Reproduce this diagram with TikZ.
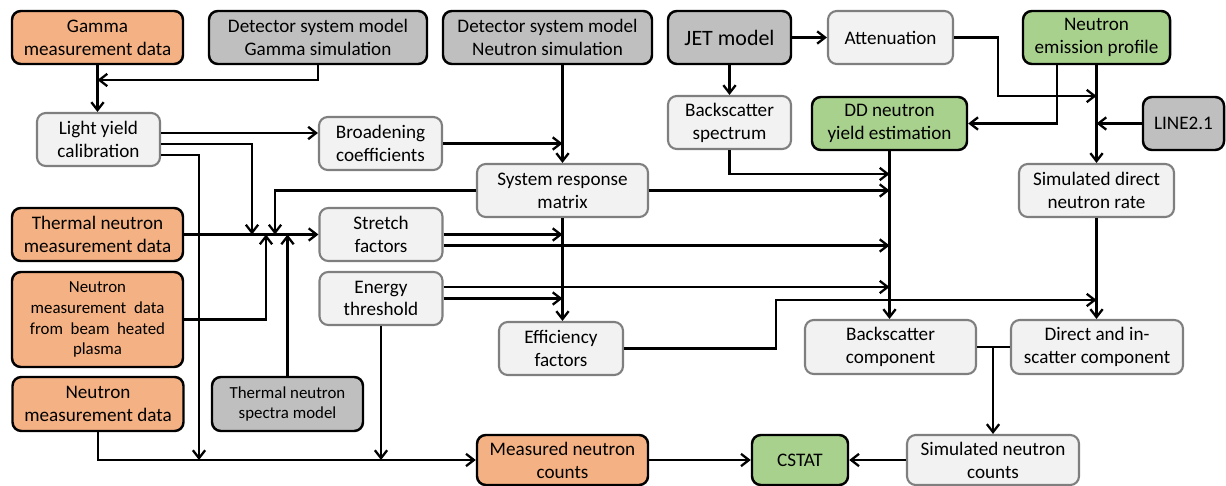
\documentclass[tikz,border=0pt]{standalone}
\usepackage{fontspec}
\setmainfont{Carlito}
\usetikzlibrary{calc,arrows.meta}
\definecolor{cOrange}{HTML}{F4B183}
\definecolor{cGreen}{HTML}{A9D18E}
\definecolor{cDark}{HTML}{BFBFBF}
\definecolor{cLight}{HTML}{F2F2F2}
\definecolor{cBord}{HTML}{7F7F7F}
\tikzset{
  box/.style 2 args={rounded corners=5pt, align=center, inner sep=0pt,
    minimum width=#1*0.02cm, minimum height=#2*0.02cm,
    font=\fontsize{10.9}{13}\selectfont},
  orange/.style={fill=cOrange, draw=black, line width=1.4pt},
  green/.style={fill=cGreen, draw=black, line width=1.4pt},
  dark/.style={fill=cDark, draw=black, line width=1.4pt},
  light/.style={fill=cLight, draw=cBord, line width=1.2pt},
  smallfont/.style={font=\fontsize{9.6}{11.9}\selectfont},
  bigfont/.style={font=\fontsize{12.5}{15}\selectfont},
  arr/.style={line width=1.3pt, -{Straight Barb[length=4.5pt,width=7pt]}},
  ln/.style={line width=1.3pt}
}
\begin{document}
\begin{tikzpicture}[x=0.02cm,y=-0.02cm]
\useasboundingbox (0,0) rectangle (1226,486);
% nodes
\node[box={171}{53},orange] (gmd) at (97.5,37.5) {Gamma\\measurement data};
\node[box={218}{53},dark] (dgs) at (318,37.5) {Detector system model\\Gamma simulation};
\node[box={209}{53},dark] (dns) at (547.5,37.5) {Detector system model\\Neutron simulation};
\node[box={123}{53},dark,bigfont] (jet) at (729.5,37.5) {JET model};
\node[box={125}{53},light] (att) at (890.5,37.5) {Attenuation};
\node[box={147}{53},green] (nep) at (1096.5,37.5) {Neutron\\emission profile};
\node[box={123}{53},light] (ly) at (98.5,139.5) {Light yield\\calibration};
\node[box={123}{53},light] (bc) at (380.5,143.5) {Broadening\\coefficients};
\node[box={123}{53},light] (bs) at (729.5,122.5) {Backscatter\\spectrum};
\node[box={155}{53},green] (dd) at (889.5,123.5) {DD neutron\\yield estimation};
\node[box={81}{53},dark] (line) at (1183.5,123.5) {LINE2.1};
\node[box={171}{53},light] (srm) at (562.5,190.5) {System response\\matrix};
\node[box={155}{53},light] (sdr) at (1096.5,190.5) {Simulated direct\\neutron rate};
\node[box={171}{53},orange] (tnm) at (97.5,234.5) {Thermal neutron\\measurement data};
\node[box={123}{53},light] (sf) at (381,234.5) {Stretch\\factors};
\node[box={123}{53},light] (et) at (381,298.5) {Energy\\threshold};
\node[box={171}{95},orange,smallfont] (nbh) at (97.5,319.5) {Neutron\\measurement~~data\\from~~beam~~heated\\plasma};
\node[box={124}{53},light] (ef) at (561,348.5) {Efficiency\\factors};
\node[box={171}{54},light] (bsc) at (890.5,347) {Backscatter\\component};
\node[box={172}{54},light] (dic) at (1097,347) {Direct and in-\\scatter component};
\node[box={171}{54},orange] (nmd) at (98,404) {Neutron\\measurement data};
\node[box={151}{54},dark,smallfont] (tns) at (287.5,404) {Thermal neutron\\spectra model};
\node[box={171}{50},orange] (mnc) at (562.5,460) {Measured neutron\\counts};
\node[box={96}{50},green] (cstat) at (800,460) {CSTAT};
\node[box={172}{50},light] (snc) at (993,460) {Simulated neutron\\counts};
% helper coordinates
\coordinate (j1) at (97.5,80);
\coordinate (ly1) at ($(ly.east)+(0,-6.5)$);
\coordinate (ly2) at ($(ly.east)+(0,4.5)$);
\coordinate (ly3) at ($(ly.east)+(0,15.5)$);
\coordinate (jA) at (252,234.5);
\coordinate (jB) at (199,460);
\coordinate (jC) at (275,234.5);
\coordinate (jD) at (266,234.5);
\coordinate (sf2) at ($(sf.east)+(0,11)$);
\coordinate (et2) at ($(et.east)+(0,-11.5)$);
\coordinate (jF) at (889.5,174);
\coordinate (k1) at (776,300);
\coordinate (jG) at (1096.5,300);
\coordinate (k2) at (998,96);
\coordinate (jH) at (1096.5,96);
\coordinate (n1) at ($(nep.south)+(-39.5,0)$);
% connectors
\draw[arr] (gmd.south) -- (gmd.south |- ly.north);
\draw[arr] (dgs.south) |- (j1);
\draw[arr] (ly1) -- (ly1 -| bc.west);
\draw[arr] (ly2) -| (jA);
\draw[arr] (ly3) -| (jB);
\draw[arr] (tnm.east) -- (tnm.east -| sf.west);
\draw[arr] (srm.west) -| (jC);
\draw[arr] (nbh.east) -| (jD);
\draw[arr] (tns.north) -- (tns.north |- tnm.east);
\draw[arr] (nmd.south) |- (mnc.west);
\draw[arr] (et.south) -- (et.south |- mnc.west);
\draw[arr] (srm.north |- dns.south) -- (srm.north);
\draw[arr] (bc.east) -- (bc.east -| srm.north);
\draw[arr] (srm.south) -- (srm.south |- ef.north);
\draw[arr] (sf.east) -- (sf.east -| srm.south);
\draw[arr] (et.east) -- (et.east -| srm.south);
\draw[arr] (sf2) -- (sf2 -| dd.south);
\draw[arr] (et2) -- (et2 -| dd.south);
\draw[arr] (srm.east) -- (srm.east -| dd.south);
\draw[arr] (bs.south) |- (jF);
\draw[arr] (dd.south) -- (dd.south |- bsc.north);
\draw[arr] (ef.east) -| (k1) -- (jG);
\draw[arr] (sdr.south) -- (sdr.south |- dic.north);
\draw[arr] (jet.east) -- (att.west);
\draw[arr] (jet.south) -- (bs.north);
\draw[arr] (att.east) -| (k2) -- (jH);
\draw[arr] (n1) |- (dd.east);
\draw[arr] (nep.south) -- (sdr.north);
\draw[arr] (line.west) -- (line.west -| nep.south);
\draw[ln] (bsc.east) -- (dic.west);
\draw[arr] (bsc.east -| snc.north) -- (snc.north);
\draw[arr] (snc.west) -- (cstat.east);
\draw[arr] (mnc.east) -- (cstat.west);
\end{tikzpicture}
\end{document}
